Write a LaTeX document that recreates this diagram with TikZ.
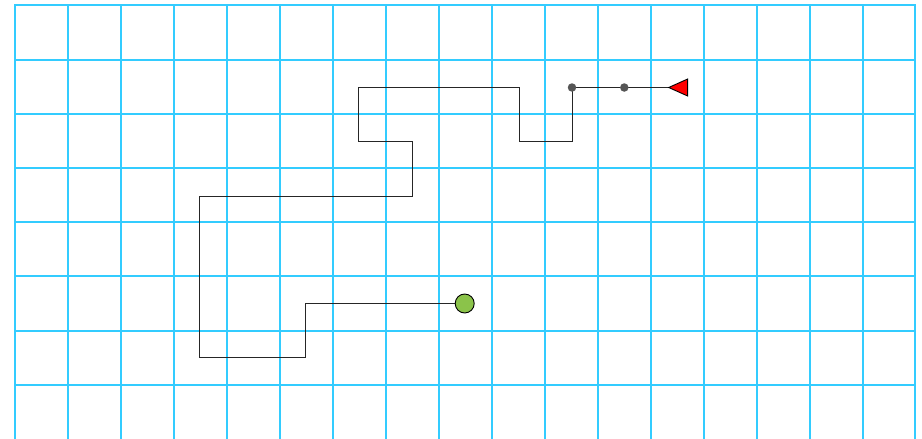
\documentclass[tikz,border=0pt]{standalone}
\usetikzlibrary{shapes.geometric}
\definecolor{gridblue}{RGB}{51,204,255}
\definecolor{startgreen}{RGB}{139,195,74}
\definecolor{dotgray}{RGB}{85,85,85}
\pgfdeclarelayer{gridlayer}
\pgfdeclarelayer{routelayer}
\pgfsetlayers{gridlayer,routelayer,main}
\begin{document}
\begin{tikzpicture}[x=1pt,y=-1pt,
  gridline/.style={draw=gridblue,line width=1.6pt,line cap=rect},
  route/.style={draw=black!85,line width=1pt},
  startdot/.style={circle,draw=black,line width=0.9pt,fill=startgreen,minimum size=19pt,inner sep=0pt},
  waydot/.style={circle,fill=dotgray,minimum size=8.5pt,inner sep=0pt},
  goalflag/.style={isosceles triangle,shape border rotate=180,isosceles triangle stretches,
    minimum width=17pt,minimum height=19pt,inner sep=0pt,draw=black,line width=0.9pt,fill=red}
  ]
\useasboundingbox (0,0) rectangle (922,439);
\begin{pgfonlayer}{gridlayer}
  \foreach \x in {15,68,121,174,227,280,333,386,439,492,545,598,651,704,757,810,863,915}
    \draw[gridline] (\x,5) -- (\x,445);
  \foreach \y in {5,60,114,168,222,276,331,385}
    \draw[gridline] (15,\y) -- (915,\y);
\end{pgfonlayer}
% nodes
\node[startdot] (start) at (464.7,303.5) {};
\node[waydot] (w1) at (572,87.5) {};
\node[waydot] (w2) at (624.3,87.5) {};
\node[goalflag,anchor=apex] (goal) at (667.5,87.5) {};
% corners of the route
\coordinate (c1) at (305,303.5);
\coordinate (c2) at (305,357.5);
\coordinate (c3) at (199.5,357.5);
\coordinate (c4) at (199.5,196.5);
\coordinate (c5) at (412,196.5);
\coordinate (c6) at (412,141.5);
\coordinate (c7) at (358.7,141.5);
\coordinate (c8) at (358.7,87.5);
\coordinate (c9) at (519,87.5);
\coordinate (c10) at (519,141.5);
\coordinate (c11) at (572,141.5);
\begin{pgfonlayer}{routelayer}
  \draw[route] (start.center) -- (c1) -- (c2) -- (c3) -- (c4) -- (c5) -- (c6) -- (c7)
    -- (c8) -- (c9) -- (c10) -- (c11) -- (w1.center) -- (w2.center) -- (goal.apex);
\end{pgfonlayer}
\end{tikzpicture}
\end{document}
